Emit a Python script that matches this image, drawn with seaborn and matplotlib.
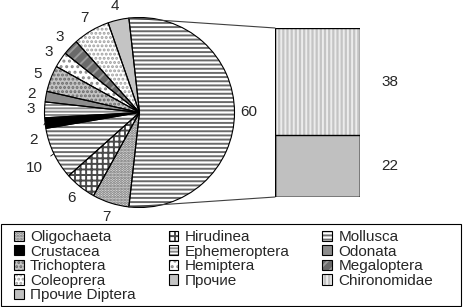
import matplotlib
matplotlib.use("Agg")
import matplotlib.pyplot as plt
import seaborn as sns
import numpy as np
from matplotlib.patches import Patch, Rectangle, ConnectionPatch

# данные: круговая часть и столбик Diptera
pie_labels = ["Oligochaeta", "Hirudinea", "Mollusca", "Crustacea", "Ephemeroptera",
              "Odonata", "Trichoptera", "Hemiptera", "Megaloptera", "Coleoprera", "Прочие"]
pie_values = [7, 6, 10, 2, 3, 2, 5, 3, 3, 7, 4]
diptera_labels = ["Chironomidae", "Прочие Diptera"]
diptera_values = [38, 22]

# заливка, штриховка, цвет штриховки
styles = {
    "Diptera": ("white", "----", "#6a6a6a"),
    "Oligochaeta": ("#e2e2e2", "......", "#6a6a6a"),
    "Hirudinea": ("white", "+++", "#4a4a4a"),
    "Mollusca": ("white", "----", "#6e6e6e"),
    "Crustacea": ("black", "", "black"),
    "Ephemeroptera": ("white", "-----", "#8a8a8a"),
    "Odonata": ("#8c8c8c", "", "#8c8c8c"),
    "Trichoptera": ("#c4c4c4", "....", "#6a6a6a"),
    "Hemiptera": ("white", "...", "#8a8a8a"),
    "Megaloptera": ("#6a6a6a", "///", "#9a9a9a"),
    "Coleoprera": ("white", "....", "#a0a0a0"),
    "Прочие": ("#c4c4c4", "", "#c4c4c4"),
    "Chironomidae": ("#c4c4c4", "||||", "#ececec"),
    "Прочие Diptera": ("#c0c0c0", "", "#c0c0c0"),
}

# подписи, отнесённые Excel в сторону (сдвиг угла, расстояние)
label_shift = {"Crustacea": (8, 1.15), "Mollusca": (2, 1.25)}

sns.set_theme(style="white")
plt.rcParams["font.family"] = ["Liberation Sans", "DejaVu Sans"]
plt.rcParams["hatch.linewidth"] = 1.4
FS = 11

W, H = 464, 307
fig = plt.figure(figsize=(W / 100, H / 100), dpi=100)
fig.patch.set_facecolor("white")

# круговая диаграмма
ax_pie = fig.add_axes([(139.5 - 95) / W, 1 - (112.5 + 95) / H, 190 / W, 190 / H])
total = sum(diptera_values) + sum(pie_values)
values = [sum(diptera_values)] + pie_values
names = ["Diptera"] + pie_labels
start = 360 * sum(diptera_values) / total / 2

fill_wedges, _ = ax_pie.pie(values, startangle=start, counterclock=False, radius=1)
for w, n in zip(fill_wedges, names):
    fc, hatch, hc = styles[n]
    w.set_facecolor(fc)
    w.set_hatch(hatch)
    w.set_edgecolor(hc)
    w.set_linewidth(0)
edge_wedges, _ = ax_pie.pie(values, startangle=start, counterclock=False, radius=1,
                            wedgeprops=dict(facecolor="none", edgecolor="black", linewidth=0.8))

for w, n, v in zip(edge_wedges, names, values):
    mid = (w.theta1 + w.theta2) / 2
    if n in label_shift:
        d_ang, dist = label_shift[n]
        la = np.radians(mid + d_ang)
        ma = np.radians(mid)
        ax_pie.annotate(str(v), xy=(np.cos(ma), np.sin(ma)),
                        xytext=(dist * np.cos(la), dist * np.sin(la)),
                        ha="center", va="center", fontsize=FS,
                        arrowprops=dict(arrowstyle="-", color="black", lw=0.6,
                                        shrinkA=4, shrinkB=0))
    else:
        a = np.radians(mid)
        ax_pie.text(1.15 * np.cos(a), 1.15 * np.sin(a), str(v),
                    ha="center", va="center", fontsize=FS)
ax_pie.set_xlim(-1, 1)
ax_pie.set_ylim(-1, 1)
ax_pie.set_aspect("equal")
ax_pie.axis("off")

# столбик: полная высота + нижний сегмент поверх
ax_bar = fig.add_axes([275 / W, 1 - 197 / H, 85 / W, 169 / H])
sns.barplot(x=["Diptera"], y=[sum(diptera_values)], ax=ax_bar, width=1, color="white")
sns.barplot(x=["Diptera"], y=[diptera_values[1]], ax=ax_bar, width=1, color="white")
bars = list(ax_bar.patches)
for p, n in zip(bars, diptera_labels):
    fc, hatch, hc = styles[n]
    p.set_facecolor(fc)
    p.set_hatch(hatch)
    p.set_edgecolor(hc)
    p.set_linewidth(0)
for p in bars:
    ax_bar.add_patch(Rectangle(p.get_xy(), p.get_width(), p.get_height(),
                               fill=False, edgecolor="black", linewidth=1.0))
ax_bar.set_xlim(-0.5, 0.5)
ax_bar.set_ylim(0, sum(diptera_values))
ax_bar.axis("off")
ax_bar.text(0.85, diptera_values[1] + diptera_values[0] / 2, str(diptera_values[0]),
            ha="center", va="center", fontsize=FS)
ax_bar.text(0.85, diptera_values[1] / 2, str(diptera_values[1]),
            ha="center", va="center", fontsize=FS)

# соединительные линии
w0 = edge_wedges[0]
for ang, yb in [(w0.theta2, 1), (w0.theta1, 0)]:
    pt = (np.cos(np.radians(ang)), np.sin(np.radians(ang)))
    con = ConnectionPatch(xyA=pt, coordsA=ax_pie.transData, xyB=(0, yb),
                          coordsB=ax_bar.transAxes, color="#404040", linewidth=0.8)
    fig.add_artist(con)

# легенда (Excel: построчно, 3 колонки)
order = ["Oligochaeta", "Crustacea", "Trichoptera", "Coleoprera", "Прочие Diptera",
         "Hirudinea", "Ephemeroptera", "Hemiptera", "Прочие",
         "Mollusca", "Odonata", "Megaloptera", "Chironomidae"]
handles = []
for n in order:
    fc, hatch, hc = styles[n]
    handles.append((Patch(facecolor=fc, hatch=hatch, edgecolor=hc, linewidth=0),
                    Patch(facecolor="none", edgecolor="black", linewidth=0.8)))
leg = fig.legend(handles, order, ncol=3, loc="upper left",
                 bbox_to_anchor=(14 / W, 1 - 230 / H),
                 fontsize=FS, frameon=False,
                 handlelength=0.65, handleheight=0.65, handletextpad=0.4,
                 labelspacing=0.04, borderpad=0, borderaxespad=0, columnspacing=2.15)
fig.add_artist(Rectangle((0.5 / W, 1 - 306 / H), 461 / W, 82 / H, transform=fig.transFigure,
                         fill=False, edgecolor="black", linewidth=0.8))

fig.savefig("out.png", dpi=100, facecolor="white")
